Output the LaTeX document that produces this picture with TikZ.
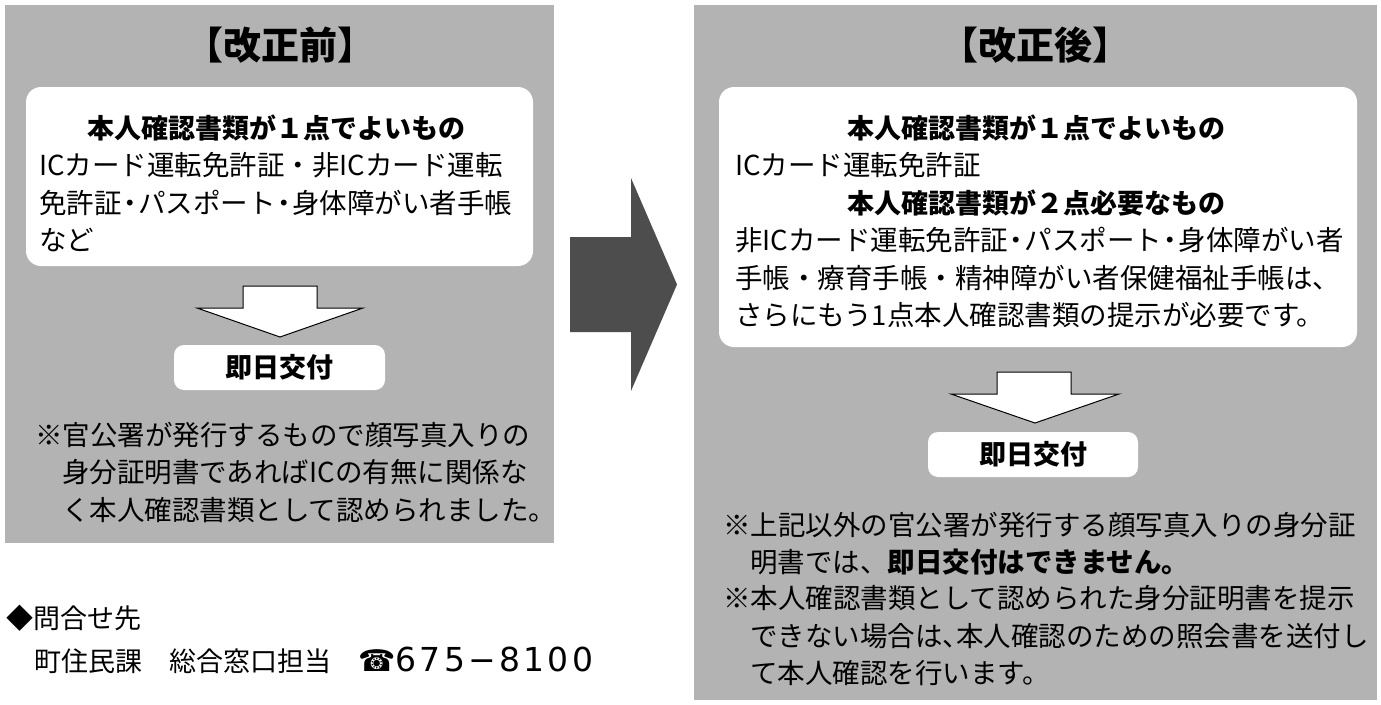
\documentclass[tikz,border=0pt]{standalone}
\usepackage{fontspec}
\setmainfont{Noto Sans CJK JP}
\newfontfamily\symfont{DejaVu Sans}
\newfontfamily\telfont[LetterSpace=10]{DejaVu Sans}
\newcommand{\nkg}{\kern-0.2em・\kern-0.2em}
\newcommand{\tkt}{、\kern-0.5em}
\definecolor{panelgray}{RGB}{179,179,179}
\definecolor{arrowgray}{RGB}{77,77,77}
\tikzset{
  panel/.style={fill=panelgray, draw=none, inner sep=0pt},
  whitebox/.style={fill=white, draw=none, rounded corners=15pt, inner sep=0pt},
  resultbox/.style={fill=white, draw=none, rounded corners=10pt, inner sep=0pt,
    font=\fontsize{27}{30}\selectfont\bfseries},
  titletext/.style={inner sep=0pt, font=\fontsize{38}{44}\selectfont\bfseries},
  headtext/.style={inner sep=0pt, anchor=center, font=\fontsize{27}{30}\selectfont\bfseries},
  bodytext/.style={inner sep=0pt, anchor=west, font=\fontsize{27.5}{30}\selectfont},
  contacttext/.style={inner sep=0pt, anchor=west, font=\fontsize{27}{30}\selectfont},
  downarrow/.style={fill=white, draw=black, line width=1pt, line join=miter},
  bigarrow/.style={fill=arrowgray, draw=none}
}
\begin{document}
\begin{tikzpicture}[x=1pt,y=-1pt]
\useasboundingbox (0,0) rectangle (1381,704);
% panels
\node[panel, minimum width=549pt, minimum height=538pt] (lpanel) at (279.5,274) {};
\node[panel, minimum width=683pt, minimum height=695pt] (rpanel) at (1035.5,352.5) {};
% titles
\node[titletext] (ltitle) at (280,45) {【改正前】};
\node[titletext] (rtitle) at (1035,45) {【改正後】};
% white boxes
\node[whitebox, minimum width=507pt, minimum height=179pt] (lbox) at (279.5,176.5) {};
\node[whitebox, minimum width=638pt, minimum height=260pt] (rbox) at (1038,217) {};
% left box text
\node[headtext] (lh1) at (276,128) {本人確認書類が１点でよいもの};
\node[bodytext] (ll1) at (39,165) {ICカード運転免許証・非ICカード運転};
\node[bodytext] (ll2) at (39,203) {免許証\nkg パスポート\nkg 身体障がい者手帳};
\node[bodytext] (ll3) at (39,240) {など};
% right box text
\node[headtext] (rh1) at (1036,128) {本人確認書類が１点でよいもの};
\node[bodytext] (rl1) at (735,165) {ICカード運転免許証};
\node[headtext] (rh2) at (1036,203) {本人確認書類が２点必要なもの};
\node[bodytext] (rl2) at (735,240) {非ICカード運転免許証\nkg パスポート\nkg 身体障がい者};
\node[bodytext] (rl3) at (735,278) {手帳・療育手帳・精神障がい者保健福祉手帳は、};
\node[bodytext] (rl4) at (735,315) {さらにもう1点本人確認書類の提示が必要です。};
% result boxes
\node[resultbox, minimum width=211pt, minimum height=45pt] (lres) at (279.5,367.5) {即日交付};
\node[resultbox, minimum width=210pt, minimum height=45pt] (rres) at (1033,454.5) {即日交付};
% down arrows
\draw[downarrow] (243,286) -- (317,286) -- (317,308) -- (363,308) -- (280,337) -- (197,308) -- (243,308) -- cycle;
\draw[downarrow] (997,372) -- (1071,372) -- (1071,394) -- (1119,394) -- (1035,423) -- (951,394) -- (997,394) -- cycle;
% middle arrow
\fill[bigarrow] (570,237) -- (631,237) -- (631,178) -- (677,284.5) -- (631,391) -- (631,332) -- (570,332) -- cycle;
% left notes
\node[bodytext] (ln1) at (35,435) {※官公署が発行するもので顔写真入りの};
\node[bodytext] (ln2) at (62,472) {身分証明書であればICの有無に関係な};
\node[bodytext] (ln3) at (62,510) {く本人確認書類として認められました。};
% right notes
\node[bodytext] (rn1) at (723,525) {※上記以外の官公署が発行する顔写真入りの身分証};
\node[bodytext] (rn2) at (750,562) {明書では、\textbf{即日交付はできません。}};
\node[bodytext] (rn3) at (723,598) {※本人確認書類として認められた身分証明書を提示};
\node[bodytext] (rn4) at (750,636) {できない場合は\tkt 本人確認のための照会書を送付し};
\node[bodytext] (rn5) at (750,673) {て本人確認を行います。};
% contact
\node[contacttext] (c1) at (6,618) {◆問合せ先};
\node[contacttext] (c2) at (34,660) {町住民課　総合窓口担当　{\fontsize{30}{30}\symfont ☎}{\fontsize{33}{33}\telfont 675−8100}};
\end{tikzpicture}
\end{document}
